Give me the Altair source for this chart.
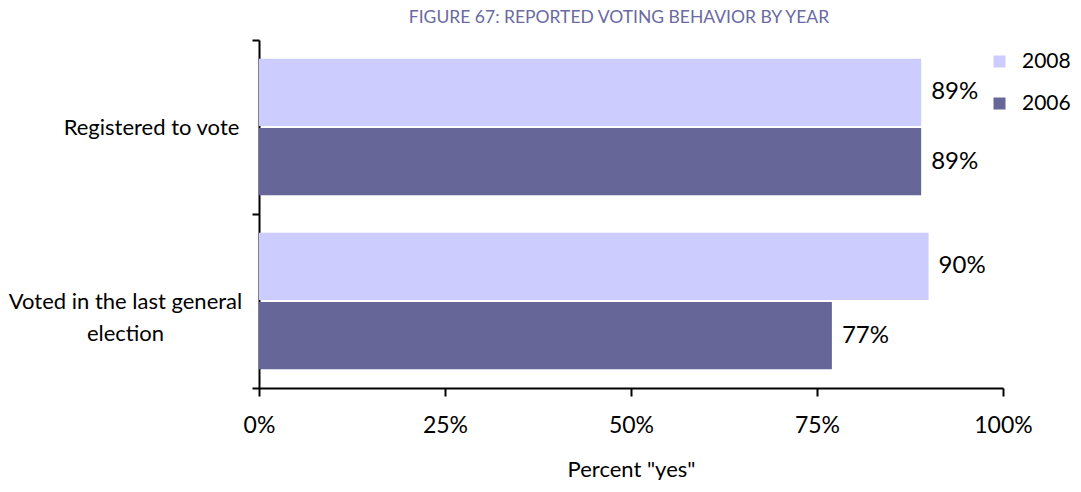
import altair as alt
import pandas as pd

categories = ["Registered to vote", "Voted in the last general election"]
years = ["2008", "2006"]
values_2008 = [89, 90]
values_2006 = [89, 77]

rows = []
for i, c in enumerate(categories):
    rows.append({"category": c, "year": "2008", "value": values_2008[i]})
    rows.append({"category": c, "year": "2006", "value": values_2006[i]})
df = pd.DataFrame(rows)
df["label"] = df["value"].astype(str) + "%"

FONT = "Lato"
FS = 22
label_expr = (
    "datum.label == 'Voted in the last general election' ? "
    "['Voted in the last general', 'election'] : datum.label"
)

y_enc = alt.Y(
    "category:N",
    sort=categories,
    title=None,
    scale=alt.Scale(paddingInner=0, paddingOuter=0),
    axis=alt.Axis(
        tickBand="extent",
        labelExpr=label_expr,
        labelFontSize=FS,
        labelFont=FONT,
        labelColor="black",
        labelAlign="center",
        labelPadding={
            "condition": {
                "test": "datum.value == 'Voted in the last general election'",
                "value": 127,
            },
            "value": 101,
        },
        labelLineHeight=32,
        domainColor="black",
        domainWidth=2,
        tickColor="black",
        tickWidth=2,
        tickSize=7,
        labelLimit=400,
    ),
)

x_enc = alt.X(
    "value:Q",
    scale=alt.Scale(domain=[0, 100]),
    title='Percent "yes"',
    axis=alt.Axis(
        values=[0, 25, 50, 75, 100],
        labelExpr="datum.value + '%'",
        labelFlush=False,
        grid=False,
        labelFontSize=23,
        labelFont=FONT,
        labelColor="black",
        labelPadding=18,
        titleFont=FONT,
        titleFontSize=FS,
        titleFontWeight="normal",
        titleColor="black",
        titlePadding=22,
        domainColor="black",
        domainWidth=2,
        tickColor="black",
        tickWidth=2,
        tickSize=8,
    ),
)

yoff = alt.YOffset(
    "year:N", sort=years, scale=alt.Scale(paddingInner=0.03, paddingOuter=0.27)
)

bars = alt.Chart(df).mark_bar().encode(
    y=y_enc,
    x=x_enc,
    yOffset=yoff,
    color=alt.Color(
        "year:N",
        sort=years,
        scale=alt.Scale(domain=years, range=["#ccccff", "#666699"]),
        legend=alt.Legend(
            title=None,
            orient="none",
            legendX=730,
            legendY=11,
            padding=0,
            symbolType="square",
            symbolSize=144,
            symbolStrokeWidth=0,
            labelFont=FONT,
            labelFontSize=21,
            labelColor="black",
            rowPadding=20,
            labelOffset=12,
        ),
    ),
)

text = alt.Chart(df).mark_text(
    align="left", baseline="middle", dx=10, fontSize=24, font=FONT, color="black"
).encode(
    y=alt.Y("category:N", sort=categories),
    x=alt.X("value:Q"),
    yOffset=yoff,
    text="label:N",
)

chart = (
    alt.layer(bars, text)
    .properties(
        width=744,
        height=348,
        padding=0,
        title=alt.TitleParams(
            "FIGURE 67: REPORTED VOTING BEHAVIOR BY YEAR",
            font=FONT,
            fontSize=17.5,
            fontWeight="normal",
            color="#6a6aa2",
            anchor="middle",
            dx=-12,
            offset=3,
        ),
    )
    .configure_view(stroke=None)
)

chart.save("out.html", embed_options={"renderer": "svg", "actions": False})
